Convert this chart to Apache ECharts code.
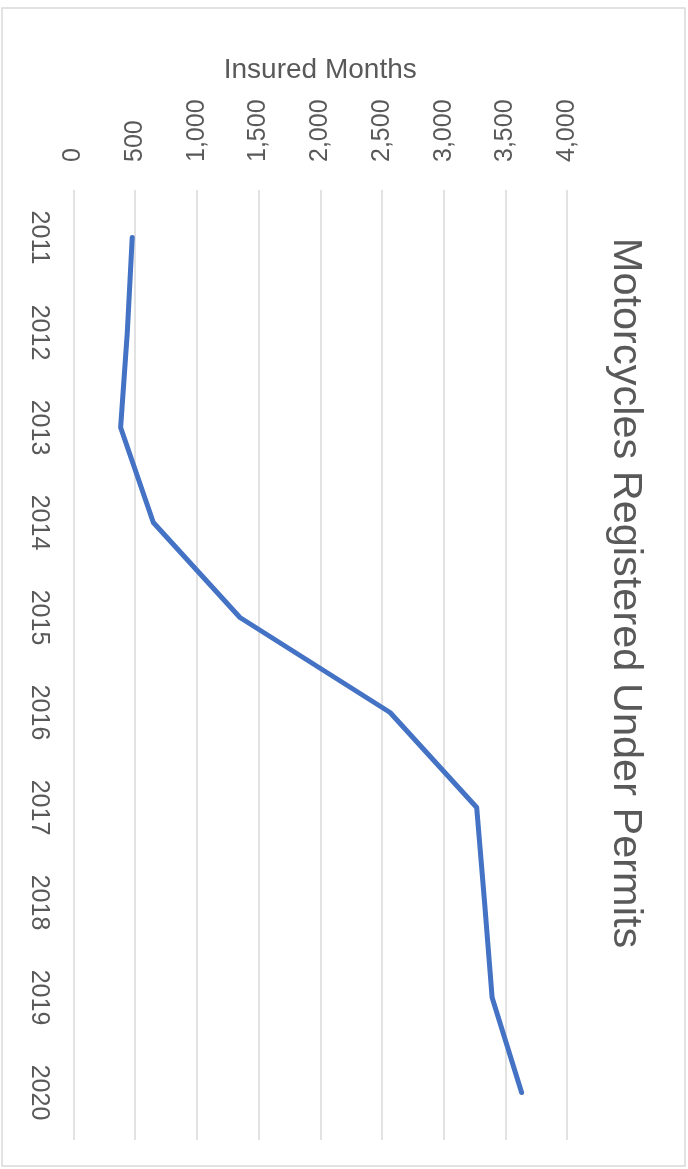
<!DOCTYPE html>
<html>
<head>
<meta charset="utf-8">
<script src="https://cdn.jsdelivr.net/npm/echarts@6/dist/echarts.min.js"></script>
<style>
html,body{margin:0;padding:0;background:#fff;}
#chart{width:688px;height:1169px;}
</style>
</head>
<body>
<div id="chart"></div>
<script>
const years = ['2011','2012','2013','2014','2015','2016','2017','2018','2019','2020'];
const insuredMonths = [476, 436, 382, 647, 1349, 2566, 3268, 3332, 3393, 3632];
const chartTitle = 'Motorcycles Registered Under Permits';
const valueAxisName = 'Insured Months';

const chart = echarts.init(document.getElementById('chart'), null, {renderer: 'canvas'});
const textColor = '#595959';
const font = 'Liberation Sans, Arial, sans-serif';

chart.setOption({
  animation: false,
  backgroundColor: '#ffffff',
  grid: {left: 73.5, right: 121, top: 190, bottom: 29, containLabel: false},
  xAxis: {
    type: 'value',
    position: 'top',
    min: 0, max: 4000, interval: 500,
    name: valueAxisName,
    nameLocation: 'middle',
    nameGap: 106,
    nameTextStyle: {fontFamily: font, fontSize: 28, color: textColor},
    axisLine: {show: false},
    axisTick: {show: false},
    axisLabel: {
      rotate: -90,
      margin: 28,
      fontFamily: font,
      fontSize: 25,
      color: textColor,
      formatter: v => v.toLocaleString('en-US')
    },
    splitLine: {show: true, lineStyle: {color: '#d9d9d9', width: 1.5}}
  },
  yAxis: {
    type: 'category',
    inverse: true,
    data: years,
    boundaryGap: true,
    axisLine: {show: false},
    axisTick: {show: false},
    splitLine: {show: false},
    axisLabel: {
      rotate: -90,
      margin: 22,
      fontFamily: font,
      fontSize: 25,
      color: textColor
    }
  },
  series: [{
    type: 'line',
    data: insuredMonths,
    showSymbol: false,
    symbol: 'none',
    lineStyle: {color: '#4472C4', width: 5, cap: 'round', join: 'round'}
  }],
  graphic: [
    {
      type: 'rect',
      shape: {x: 2, y: 8, width: 683, height: 1158},
      style: {fill: 'none', stroke: '#d9d9d9', lineWidth: 1.5},
      silent: true,
      z: -1
    },
    {
      type: 'text',
      x: 625,
      y: 593,
      rotation: -Math.PI / 2,
      style: {
        text: chartTitle,
        fontFamily: font,
        fontSize: 41.5,
        fill: textColor,
        textAlign: 'center',
        textVerticalAlign: 'middle'
      }
    }
  ]
});
</script>
</body>
</html>
